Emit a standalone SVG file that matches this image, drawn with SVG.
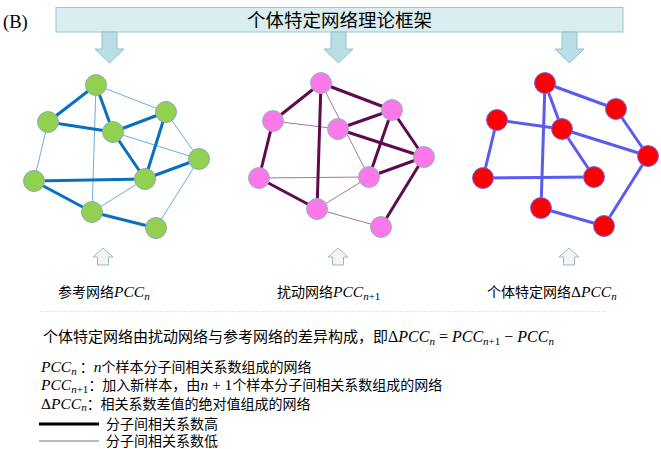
<svg xmlns="http://www.w3.org/2000/svg" width="661" height="449" viewBox="0 0 661 449">
<style>
.cjk{font-family:"Noto Sans CJK SC","Liberation Serif",sans-serif;fill:#000}
.lg{font-family:"Liberation Serif","Noto Sans CJK SC",sans-serif;fill:#000}
.m{font-family:"Liberation Serif",serif;font-style:italic}
.mu{font-family:"Liberation Serif",serif}
.dn{fill:#B9DEE4;stroke:#93C2C8;stroke-width:1}
.up{fill:#F4F4F4;stroke:#9BBCC0;stroke-width:1}
.gT{stroke:#0870C0;stroke-width:3}
.gt{stroke:#6AAEE0;stroke-width:1}
.pT{stroke:#5E0B4D;stroke-width:3}
.pt{stroke:#A8739E;stroke-width:1}
.rT{stroke:#5B5BF2;stroke-width:3}
.gn{fill:#92D050;stroke:#8FA8B8;stroke-width:1}
.pn{fill:#FA78EA;stroke:#8DBABA;stroke-width:1}
.rn{fill:#FF0000;stroke:#6B6BFF;stroke-width:1}
</style>
<rect width="661" height="449" fill="#fff"/>
<text x="3" y="28" font-family="Liberation Serif,serif" font-size="18.5">(B)</text>
<g id="banner">
<rect x="56" y="7.5" width="567" height="24.5" fill="#DAEEF2" stroke="#9CC6CC" stroke-width="1"/>
<text class="cjk" x="339.5" y="27" font-size="18.5" text-anchor="middle">个体特定网络理论框架</text>
</g>
<g id="down-arrows">
<path class="dn" d="M102,32 H117 V49 H124 L109.5,63 L95,49 H102 Z"/>
<path class="dn" d="M331,32 H346 V49 H353 L338.5,63 L324,49 H331 Z"/>
<path class="dn" d="M562,32 H577 V49 H584 L569.5,63 L555,49 H562 Z"/>
</g>
<g id="connectors" fill="none">
<line class="gt" x1="96" y1="85" x2="166" y2="112"/>
<line class="gt" x1="96" y1="85" x2="92" y2="212"/>
<line class="gt" x1="48" y1="122" x2="34" y2="181"/>
<line class="gt" x1="113" y1="132" x2="199" y2="159"/>
<line class="gt" x1="166" y1="112" x2="199" y2="159"/>
<line class="gt" x1="92" y1="212" x2="145" y2="179"/>
<line class="gt" x1="199" y1="159" x2="156" y2="228"/>
<line class="gT" x1="96" y1="85" x2="48" y2="122"/>
<line class="gT" x1="96" y1="85" x2="113" y2="132"/>
<line class="gT" x1="48" y1="122" x2="113" y2="132"/>
<line class="gT" x1="113" y1="132" x2="166" y2="112"/>
<line class="gT" x1="113" y1="132" x2="145" y2="179"/>
<line class="gT" x1="166" y1="112" x2="145" y2="179"/>
<line class="gT" x1="145" y1="179" x2="199" y2="159"/>
<line class="gT" x1="34" y1="181" x2="145" y2="179"/>
<line class="gT" x1="34" y1="181" x2="92" y2="212"/>
<line class="gT" x1="92" y1="212" x2="156" y2="228"/>
<line class="pt" x1="273" y1="121" x2="338" y2="129"/>
<line class="pt" x1="321" y1="83" x2="369" y2="177"/>
<line class="pt" x1="259" y1="178" x2="369" y2="177"/>
<line class="pt" x1="317" y1="209" x2="369" y2="177"/>
<line class="pt" x1="317" y1="209" x2="381" y2="227"/>
<line class="pT" x1="321" y1="83" x2="273" y2="121"/>
<line class="pT" x1="321" y1="83" x2="392" y2="110"/>
<line class="pT" x1="321" y1="83" x2="317" y2="209"/>
<line class="pT" x1="273" y1="121" x2="259" y2="178"/>
<line class="pT" x1="338" y1="129" x2="392" y2="110"/>
<line class="pT" x1="338" y1="129" x2="424" y2="157"/>
<line class="pT" x1="392" y1="110" x2="369" y2="177"/>
<line class="pT" x1="392" y1="110" x2="424" y2="157"/>
<line class="pT" x1="369" y1="177" x2="424" y2="157"/>
<line class="pT" x1="259" y1="178" x2="317" y2="209"/>
<line class="pT" x1="424" y1="157" x2="381" y2="227"/>
<line class="rT" x1="545" y1="83" x2="616" y2="109"/>
<line class="rT" x1="545" y1="83" x2="541" y2="208"/>
<line class="rT" x1="545" y1="83" x2="562" y2="129"/>
<line class="rT" x1="562" y1="129" x2="594" y2="177"/>
<line class="rT" x1="497" y1="120" x2="562" y2="129"/>
<line class="rT" x1="497" y1="120" x2="483" y2="178"/>
<line class="rT" x1="562" y1="129" x2="648" y2="156"/>
<line class="rT" x1="616" y1="109" x2="648" y2="156"/>
<line class="rT" x1="483" y1="178" x2="594" y2="177"/>
<line class="rT" x1="541" y1="208" x2="604" y2="226"/>
<line class="rT" x1="604" y1="226" x2="648" y2="156"/>
</g>
<g id="g1"><circle class="gn" cx="96" cy="85" r="10.5"/></g>
<g id="g2"><circle class="gn" cx="48" cy="122" r="10.5"/></g>
<g id="g3"><circle class="gn" cx="113" cy="132" r="10.5"/></g>
<g id="g4"><circle class="gn" cx="166" cy="112" r="10.5"/></g>
<g id="g5"><circle class="gn" cx="199" cy="159" r="10.5"/></g>
<g id="g6"><circle class="gn" cx="34" cy="181" r="10.5"/></g>
<g id="g7"><circle class="gn" cx="145" cy="179" r="10.5"/></g>
<g id="g8"><circle class="gn" cx="92" cy="212" r="10.5"/></g>
<g id="g9"><circle class="gn" cx="156" cy="228" r="10.5"/></g>
<g id="p1"><circle class="pn" cx="321" cy="83" r="10.5"/></g>
<g id="p2"><circle class="pn" cx="273" cy="121" r="10.5"/></g>
<g id="p3"><circle class="pn" cx="338" cy="129" r="10.5"/></g>
<g id="p4"><circle class="pn" cx="392" cy="110" r="10.5"/></g>
<g id="p5"><circle class="pn" cx="424" cy="157" r="10.5"/></g>
<g id="p6"><circle class="pn" cx="259" cy="178" r="10.5"/></g>
<g id="p7"><circle class="pn" cx="369" cy="177" r="10.5"/></g>
<g id="p8"><circle class="pn" cx="317" cy="209" r="10.5"/></g>
<g id="p9"><circle class="pn" cx="381" cy="227" r="10.5"/></g>
<g id="r1"><circle class="rn" cx="545" cy="83" r="10.5"/></g>
<g id="r2"><circle class="rn" cx="497" cy="120" r="10.5"/></g>
<g id="r3"><circle class="rn" cx="562" cy="129" r="10.5"/></g>
<g id="r4"><circle class="rn" cx="616" cy="109" r="10.5"/></g>
<g id="r5"><circle class="rn" cx="648" cy="156" r="10.5"/></g>
<g id="r6"><circle class="rn" cx="483" cy="178" r="10.5"/></g>
<g id="r7"><circle class="rn" cx="594" cy="177" r="10.5"/></g>
<g id="r8"><circle class="rn" cx="541" cy="208" r="10.5"/></g>
<g id="r9"><circle class="rn" cx="604" cy="226" r="10.5"/></g>
<g id="up-arrows">
<path class="up" d="M97.5,265 V257 H93 L103,248 L113,257 H108.5 V265 Z"/>
<path class="up" d="M332.5,265 V257 H328 L338,248 L348,257 H343.5 V265 Z"/>
<path class="up" d="M563.5,265 V257 H559 L569,248 L579,257 H574.5 V265 Z"/>
</g>
<g id="labels" font-size="14">
<text class="cjk" x="58" y="297">参考网络<tspan class="m" font-size="15.5">PCC</tspan><tspan class="m" font-size="11" dy="3">n</tspan></text>
<text class="cjk" x="277" y="297">扰动网络<tspan class="m" font-size="15.5">PCC</tspan><tspan class="m" font-size="11" dy="3">n</tspan><tspan class="mu" font-size="11">+1</tspan></text>
<text class="cjk" x="487" y="297">个体特定网络<tspan class="mu" font-size="15.5">Δ</tspan><tspan class="m" font-size="15.5">PCC</tspan><tspan class="m" font-size="11" dy="3">n</tspan></text>
</g>
<line x1="40" y1="311.5" x2="606" y2="311.5" stroke="#C8E4E8" stroke-width="1" stroke-dasharray="1.5,1.5"/>
<g id="notes">
<text class="cjk" x="43" y="342" font-size="15">个体特定网络由扰动网络与参考网络的差异构成，即<tspan class="mu" font-size="16">Δ</tspan><tspan class="m" font-size="16">PCC</tspan><tspan class="m" font-size="11" dy="3">n</tspan><tspan class="mu" font-size="16" dy="-3"> = </tspan><tspan class="m" font-size="16">PCC</tspan><tspan class="m" font-size="11" dy="3">n</tspan><tspan class="mu" font-size="11">+1</tspan><tspan class="mu" font-size="16" dy="-3"> − </tspan><tspan class="m" font-size="16">PCC</tspan><tspan class="m" font-size="11" dy="3">n</tspan></text>
<text class="cjk" x="41" y="372" font-size="14"><tspan class="m" font-size="15.5">PCC</tspan><tspan class="m" font-size="11" dy="2.5">n</tspan><tspan dy="-2.5"> ：</tspan><tspan class="m" font-size="15.5">n</tspan>个样本分子间相关系数组成的网络</text>
<text class="cjk" x="41" y="390" font-size="14"><tspan class="m" font-size="15.5">PCC</tspan><tspan class="m" font-size="11" dy="2.5">n</tspan><tspan class="mu" font-size="11">+1</tspan><tspan dy="-2.5">：加入新样本，由</tspan><tspan class="m" font-size="15.5">n</tspan><tspan class="mu" font-size="15.5"> + 1</tspan>个样本分子间相关系数组成的网络</text>
<text class="cjk" x="41" y="408.5" font-size="14"><tspan class="mu" font-size="15.5">Δ</tspan><tspan class="m" font-size="15.5">PCC</tspan><tspan class="m" font-size="11" dy="2.5">n</tspan><tspan dy="-2.5">：相关系数差值的绝对值组成的网络</tspan></text>
</g>
<g id="legend">
<line x1="39" y1="424" x2="99" y2="424" stroke="#000" stroke-width="3"/>
<line x1="39" y1="441" x2="99" y2="441" stroke="#777" stroke-width="1"/>
<text class="lg" x="106" y="428.5" font-size="14">分子间相关系数高</text>
<text class="lg" x="106" y="445.5" font-size="14">分子间相关系数低</text>
</g>
</svg>
